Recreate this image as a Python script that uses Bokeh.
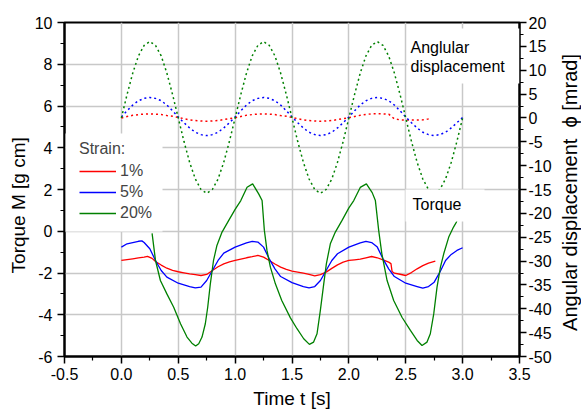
from math import pi
from bokeh.plotting import figure
from bokeh.models import (Range1d, LinearAxis, FixedTicker, PrintfTickFormatter,
                          Legend, LegendItem, Label, BoxAnnotation)
from bokeh.embed import file_html
from bokeh.resources import INLINE

FONT = "Liberation Sans"
NB = "\u00a0"

# ---------------- data ----------------
# Angular displacement (mrad), dotted, sampled every 0.05 s
t_ang = [0.00, 0.05, 0.10, 0.15, 0.20, 0.25, 0.30, 0.35, 0.40, 0.45,
         0.50, 0.55, 0.60, 0.65, 0.70, 0.75, 0.80, 0.85, 0.90, 0.95,
         1.00, 1.05, 1.10, 1.15, 1.20, 1.25, 1.30, 1.35, 1.40, 1.45,
         1.50, 1.55, 1.60, 1.65, 1.70, 1.75, 1.80, 1.85, 1.90, 1.95,
         2.00, 2.05, 2.10, 2.15, 2.20, 2.25, 2.30, 2.35, 2.40, 2.45,
         2.50, 2.55, 2.60, 2.65, 2.70, 2.75, 2.80, 2.85, 2.90, 2.95, 3.00]
ang_20 = [0.0, 4.9, 9.4, 13.0, 15.2, 16.0, 15.2, 13.0, 9.4, 4.9,
          0.0, -4.9, -9.3, -12.8, -15.0, -15.8, -15.0, -12.8, -9.3, -4.9,
          0.0, 4.9, 9.4, 13.0, 15.2, 16.0, 15.2, 13.0, 9.4, 4.9,
          0.0, -4.9, -9.3, -12.8, -15.0, -15.8, -15.0, -12.8, -9.3, -4.9,
          0.0, 4.9, 9.4, 13.0, 15.2, 16.0, 15.2, 13.0, 9.4, 4.9,
          0.0, -4.9, -9.3, -12.8, -15.0, -15.8, -15.0, -12.8, -9.3, -4.9, 0.0]
ang_5 = [0.2, 1.5, 2.7, 3.6, 4.1, 4.3, 4.1, 3.6, 2.7, 1.5,
         0.2, -1.0, -2.1, -3.0, -3.5, -3.7, -3.5, -3.0, -2.1, -1.0,
         0.2, 1.5, 2.7, 3.6, 4.1, 4.3, 4.1, 3.6, 2.7, 1.5,
         0.2, -1.0, -2.1, -3.0, -3.5, -3.7, -3.5, -3.0, -2.1, -1.0,
         0.2, 1.5, 2.7, 3.6, 4.1, 4.3, 4.1, 3.6, 2.7, 1.5,
         0.2, -1.0, -2.1, -3.0, -3.5, -3.7, -3.5, -3.0, -2.1, -1.0, 0.1]
t_ang_1 = t_ang[:55] + [2.72]
ang_1 = [0.0, 0.3, 0.55, 0.7, 0.8, 0.85, 0.8, 0.7, 0.5, 0.35,
         0.1, -0.15, -0.4, -0.55, -0.65, -0.7, -0.65, -0.55, -0.35, -0.15,
         0.05, 0.3, 0.55, 0.7, 0.8, 0.85, 0.8, 0.7, 0.5, 0.35,
         0.1, -0.15, -0.4, -0.55, -0.65, -0.7, -0.65, -0.55, -0.35, -0.15,
         0.05, 0.3, 0.55, 0.75, 0.85, 0.85, 0.85, 0.8, -0.2, -0.4,
         -0.45, -0.45, -0.45, -0.4, -0.2, -0.05]

# Torque (g cm), solid
t_tq_1 = [0.00, 0.05, 0.10, 0.15, 0.20, 0.23, 0.27, 0.30, 0.35, 0.40, 0.45,
          0.50, 0.55, 0.60, 0.65, 0.70, 0.75, 0.80, 0.85, 0.90, 0.95,
          1.00, 1.05, 1.10, 1.15, 1.20, 1.25, 1.30, 1.35, 1.40, 1.45,
          1.50, 1.55, 1.60, 1.65, 1.70, 1.75, 1.80, 1.85, 1.90, 1.95,
          2.00, 2.05, 2.10, 2.15, 2.20, 2.25, 2.30, 2.35, 2.37, 2.38,
          2.40, 2.45, 2.50, 2.55, 2.60, 2.65, 2.70, 2.76]
tq_1 = [-1.40, -1.36, -1.32, -1.28, -1.24, -1.20, -1.30, -1.45, -1.62, -1.77, -1.87,
        -1.94, -1.99, -2.04, -2.08, -2.12, -2.07, -1.88, -1.70, -1.56, -1.47,
        -1.40, -1.33, -1.27, -1.22, -1.16, -1.24, -1.40, -1.57, -1.72, -1.83,
        -1.91, -1.96, -2.01, -2.07, -2.14, -2.08, -1.96, -1.78, -1.61, -1.48,
        -1.40, -1.37, -1.34, -1.27, -1.21, -1.27, -1.37, -1.48, -1.55, -1.93,
        -2.01, -2.06, -2.12, -1.98, -1.80, -1.65, -1.53, -1.43]

t_tq_5 = [0.00, 0.05, 0.10, 0.15, 0.18, 0.20, 0.25, 0.30, 0.35, 0.40, 0.50,
          0.60, 0.65, 0.70, 0.75, 0.80, 0.85, 0.90, 1.00, 1.10, 1.15,
          1.20, 1.25, 1.30, 1.35, 1.40, 1.50, 1.60, 1.65, 1.70, 1.75,
          1.80, 1.85, 1.90, 2.00, 2.10, 2.15, 2.20, 2.25, 2.30, 2.35,
          2.40, 2.50, 2.60, 2.65, 2.70, 2.75, 2.80, 2.85, 2.90, 2.95, 3.00]
tq_5 = [-0.76, -0.60, -0.54, -0.48, -0.46, -0.54, -0.84, -1.40, -1.88, -2.20, -2.49,
        -2.65, -2.71, -2.68, -2.36, -1.88, -1.40, -1.05, -0.76, -0.56, -0.48,
        -0.52, -0.76, -1.32, -1.80, -2.17, -2.46, -2.65, -2.71, -2.65, -2.36,
        -1.88, -1.40, -1.08, -0.76, -0.56, -0.48, -0.54, -0.76, -1.32, -1.80,
        -2.17, -2.49, -2.65, -2.73, -2.65, -2.44, -1.96, -1.40, -1.11, -0.92, -0.79]

t_tq_20 = [0.27, 0.30, 0.343, 0.40, 0.46, 0.52, 0.577, 0.62, 0.653, 0.68,
           0.709, 0.738, 0.759, 0.782, 0.81, 0.84, 0.885, 0.944, 1.00, 1.05,
           1.105, 1.154, 1.207, 1.237, 1.257, 1.28, 1.31, 1.354, 1.41, 1.486,
           1.544, 1.603, 1.653, 1.69, 1.72, 1.749, 1.779, 1.802, 1.837, 1.881,
           1.94, 2.00, 2.043, 2.10, 2.154, 2.205, 2.233, 2.262, 2.29, 2.336,
           2.394, 2.467, 2.541, 2.60, 2.643, 2.687, 2.716, 2.746, 2.775, 2.805,
           2.834, 2.878, 2.92, 2.95]
tq_20 = [-0.10, -1.40, -2.36, -3.00, -3.64, -4.43, -5.07, -5.36, -5.50, -5.39,
         -5.07, -4.43, -3.64, -2.52, -1.40, -0.68, -0.04, 0.52, 1.05, 1.47,
         2.11, 2.27, 1.79, 1.47, 0.04, -0.92, -1.72, -2.52, -3.32, -4.15,
         -4.67, -5.15, -5.42, -5.31, -4.91, -3.80, -2.52, -1.56, -0.60, -0.04,
         0.52, 1.12, 1.47, 2.10, 2.27, 1.85, 1.47, 0.04, -1.08, -2.36,
         -3.32, -4.12, -4.75, -5.23, -5.47, -5.31, -4.91, -3.96, -2.68, -1.72,
         -1.08, -0.28, 0.20, 0.48]

x_ticks = [-0.5, 0.0, 0.5, 1.0, 1.5, 2.0, 2.5, 3.0, 3.5]
x_minor = [-0.25, 0.25, 0.75, 1.25, 1.75, 2.25, 2.75, 3.25]
x_grid = [0.0, 0.5, 1.0, 1.5, 2.0, 2.5, 3.0]
y_ticks = [-6, -4, -2, 0, 2, 4, 6, 8, 10]
y_minor = [-5, -3, -1, 1, 3, 5, 7, 9]
y_grid = [-4, -2, 0, 2, 4, 6, 8]
r_ticks = [-50, -45, -40, -35, -30, -25, -20, -15, -10, -5, 0, 5, 10, 15, 20]
r_minor = [-47.5, -42.5, -37.5, -32.5, -27.5, -22.5, -17.5, -12.5, -7.5, -2.5,
           2.5, 7.5, 12.5, 17.5]

strains = ["1%", "5%", "20%"]
colors = ["#ff0000", "#0000ff", "#008000"]

# ---------------- figure ----------------
p = figure(width=581, height=412, output_backend="svg", toolbar_location=None,
           x_range=Range1d(-0.5, 3.5), y_range=Range1d(-6, 10),
           min_border_left=64, min_border_right=62, min_border_top=22,
           min_border_bottom=56, title=None)
p.extra_y_ranges = {"ang": Range1d(-50, 20)}
p.background_fill_color = "white"
p.border_fill_color = "white"
p.outline_line_color = "black"
p.outline_line_width = 2

p.xgrid.ticker = FixedTicker(ticks=x_grid)
p.ygrid.ticker = FixedTicker(ticks=y_grid)
for g in (p.xgrid, p.ygrid):
    g.grid_line_color = "#c8c8c8"
    g.grid_line_width = 1.5


def style_axis(ax, standoff, label, label_standoff, label_size="19px"):
    ax.axis_line_color = "black"
    ax.axis_line_width = 2
    ax.major_tick_line_color = "black"
    ax.major_tick_line_width = 1.5
    ax.minor_tick_line_color = "black"
    ax.minor_tick_line_width = 1.2
    ax.major_tick_in = 0
    ax.major_tick_out = 7
    ax.minor_tick_in = 0
    ax.minor_tick_out = 4
    ax.major_label_text_font = FONT
    ax.major_label_text_font_size = "16px"
    ax.major_label_text_color = "black"
    ax.major_label_standoff = standoff
    if label:
        ax.axis_label = label
        ax.axis_label_text_font = FONT
        ax.axis_label_text_font_size = label_size
        ax.axis_label_text_font_style = "normal"
        ax.axis_label_text_color = "black"
        ax.axis_label_standoff = label_standoff


xa = p.xaxis[0]
xa.ticker = FixedTicker(ticks=x_ticks, minor_ticks=x_minor)
xa.formatter = PrintfTickFormatter(format="%.1f")
style_axis(xa, 4, "Time t [s]", 5)

ya = p.yaxis[0]
ya.ticker = FixedTicker(ticks=y_ticks, minor_ticks=y_minor)
ya.formatter = PrintfTickFormatter(format="%d")
style_axis(ya, 5, "Torque M [g cm]" + NB * 6, 3)

ra = LinearAxis(y_range_name="ang",
                ticker=FixedTicker(ticks=r_ticks, minor_ticks=r_minor),
                formatter=PrintfTickFormatter(format="%d"))
style_axis(ra, 2, None, 0)
p.add_layout(ra, "right")

# right axis title (reads bottom to top), placed in the right side panel
p.add_layout(Label(x=569, y=192, x_units="canvas", y_units="canvas",
                   text="Angular displacement" + NB * 2 + "\u03d5" + NB + "[mrad]",
                   angle=pi / 2, text_align="center", text_baseline="middle",
                   text_font=FONT, text_font_size="20px", text_color="black"), "right")

# dotted angular displacement
p.line(t_ang_1, ang_1, y_range_name="ang", color=colors[0], line_width=1.5, line_dash="2 3")
p.line(t_ang, ang_5, y_range_name="ang", color=colors[1], line_width=1.5, line_dash="2 3")
p.line(t_ang, ang_20, y_range_name="ang", color=colors[2], line_width=1.5, line_dash="2 3")

# torque
r1 = p.line(t_tq_1, tq_1, color=colors[0], line_width=1.3)
r5 = p.line(t_tq_5, tq_5, color=colors[1], line_width=1.3)
r20 = p.line(t_tq_20, tq_20, color=colors[2], line_width=1.3)

# white boxes behind annotations
for (l, r, b, t) in [(1, 98, 125, 223), (343, 455, 273, 328), (341, 420, 135, 167)]:
    p.add_layout(BoxAnnotation(left=l, right=r, bottom=b, top=t,
                               left_units="screen", right_units="screen",
                               bottom_units="screen", top_units="screen",
                               fill_color="white", fill_alpha=1.0,
                               line_color=None, line_alpha=0))

legend = Legend(items=[LegendItem(label=s, renderers=[rr]) for s, rr in zip(strains, [r1, r5, r20])],
                location=(6, 125), title="Strain:",
                title_text_font=FONT, title_text_font_size="16px", title_text_font_style="normal",
                title_standoff=4,
                label_text_font=FONT, label_text_font_size="16px",
                glyph_width=37, glyph_height=18, label_height=18, label_standoff=4,
                spacing=3, padding=9, margin=0,
                background_fill_alpha=0, border_line_alpha=0)
p.add_layout(legend)

lab_kw = dict(x_units="screen", y_units="screen", text_font=FONT, text_color="black",
              text_font_size="16px", text_baseline="alphabetic")
p.add_layout(Label(x=346, y=309, text="Anglular", **lab_kw))
p.add_layout(Label(x=346, y=290, text="displacement", **lab_kw))
p.add_layout(Label(x=348, y=152, text="Torque", **lab_kw))

open("out.html", "w").write(file_html(p, INLINE))
